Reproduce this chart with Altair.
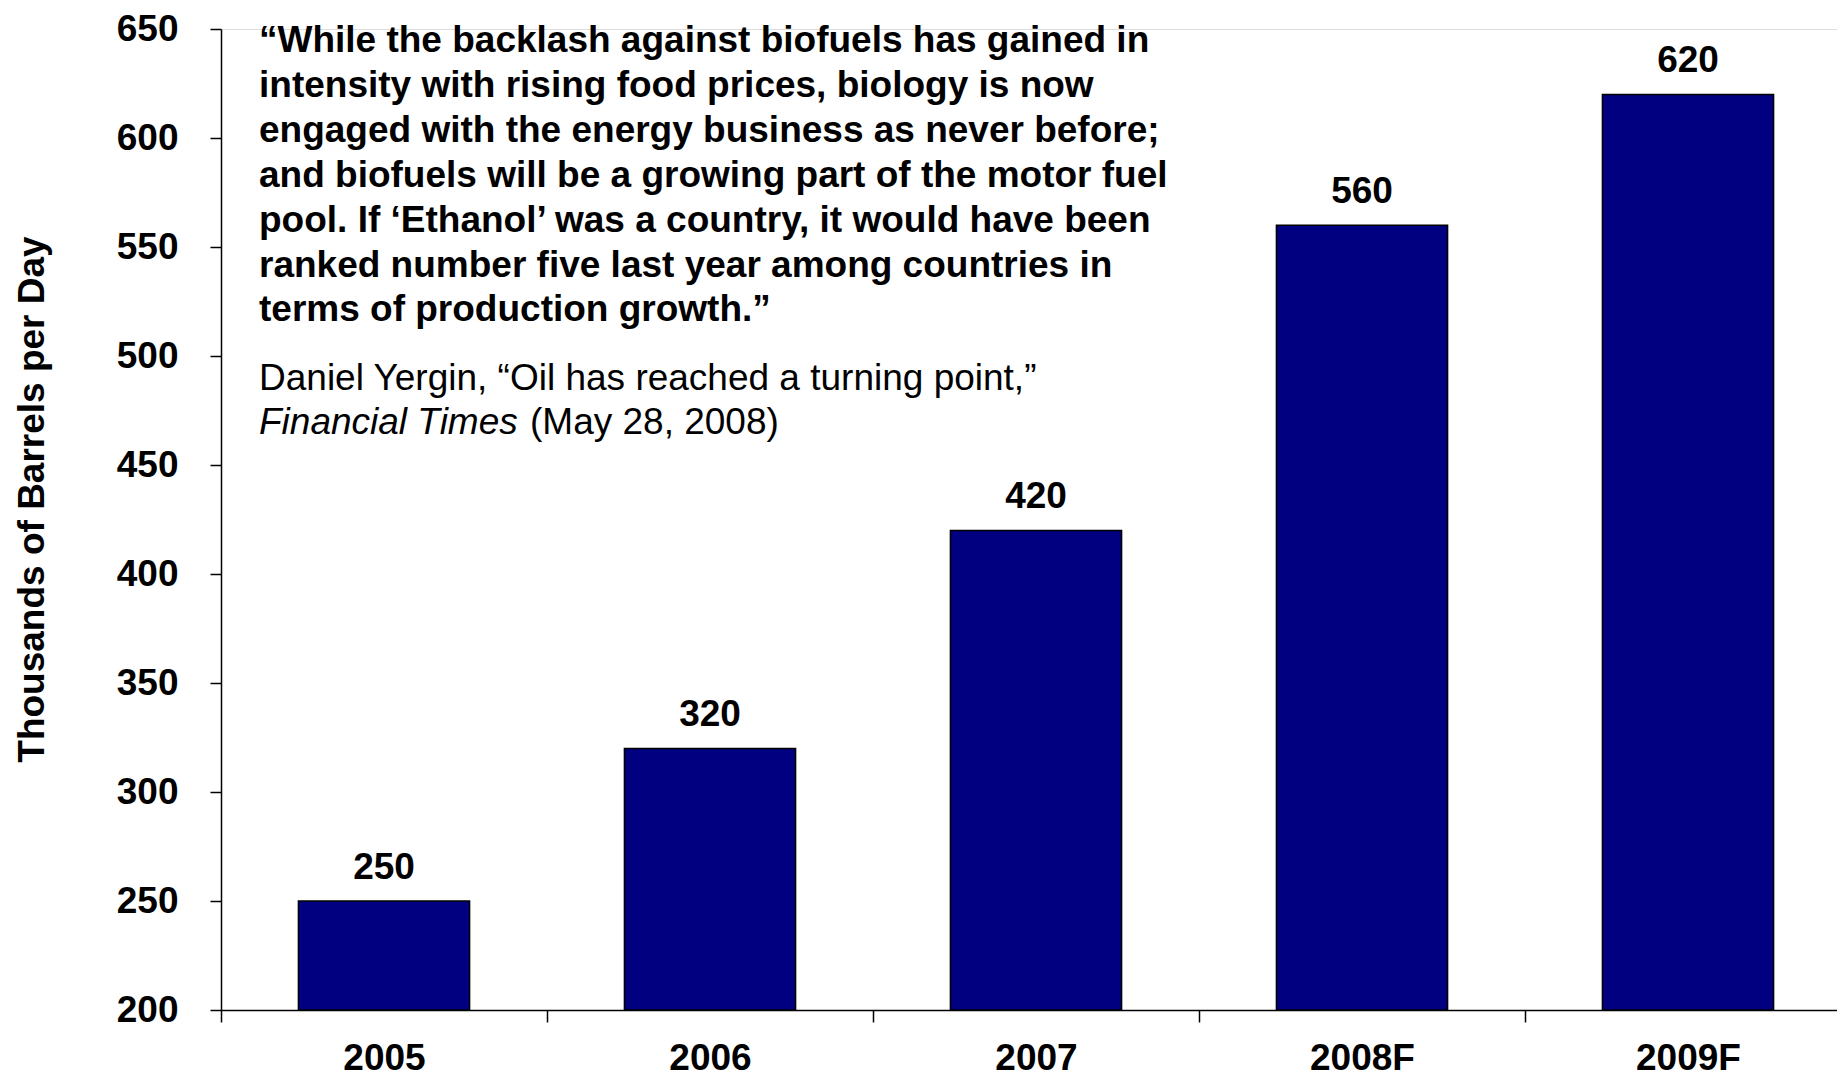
import altair as alt
import pandas as pd

years = ["2005", "2006", "2007", "2008F", "2009F"]
values = [250, 320, 420, 560, 620]
y_ticks = [200, 250, 300, 350, 400, 450, 500, 550, 600, 650]
y_title = "Thousands of Barrels per Day"

quote_lines = [
    "\u201cWhile the backlash against biofuels has gained in",
    "intensity with rising food prices, biology is now",
    "engaged with the energy business as never before;",
    "and biofuels will be a growing part of the motor fuel",
    "pool. If \u2018Ethanol\u2019 was a country, it would have been",
    "ranked number five last year among countries in",
    "terms of production growth.\u201d",
]
citation_line1 = "Daniel Yergin, \u201cOil has reached a turning point,\u201d"
citation_italic = "Financial Times"
citation_rest = "(May 28, 2008)"

FONT = "Liberation Sans"
FS = 37

df = pd.DataFrame({"year": years, "value": values})

x_enc = alt.X(
    "year:N",
    sort=years,
    scale=alt.Scale(paddingInner=0, paddingOuter=0),
    axis=alt.Axis(
        title=None, labelAngle=0, tickBand="extent", tickSize=12, labelPadding=18,
        labelFontSize=FS, labelFontWeight="bold", labelColor="black", labelFont=FONT,
        domainColor="black", tickColor="black", domainWidth=1.5, tickWidth=1.5,
    ),
)
y_enc = alt.Y(
    "value:Q",
    scale=alt.Scale(domain=[y_ticks[0], y_ticks[-1]], nice=False, zero=False),
    axis=alt.Axis(
        values=y_ticks, title=y_title, titleFontSize=FS, titleFontWeight="bold",
        titleFont=FONT, titleColor="black", titleAngle=270, titleX=-189, titleY=470,
        titleAlign="center", titleBaseline="middle",
        labelFontSize=FS, labelFontWeight="bold", labelFont=FONT, labelColor="black",
        labelFlush=False, labelOverlap=False, tickSize=11, labelPadding=32, grid=False,
        domainColor="black", tickColor="black", domainWidth=1.5, tickWidth=1.5,
    ),
)

bars = alt.Chart(df).mark_bar(
    width=alt.RelativeBandSize(0.525), color="#000080", stroke="black", strokeWidth=1.5
).encode(x=x_enc, y=y_enc, y2=alt.datum(y_ticks[0]))

labels = alt.Chart(df).mark_text(
    font=FONT, fontSize=FS, fontWeight="bold", color="black", baseline="alphabetic", dy=-22
).encode(x=alt.X("year:N", sort=years), y=alt.Y("value:Q"), text=alt.Text("value:Q"))

quote = alt.Chart(pd.DataFrame({"t": ["\n".join(quote_lines)]})).mark_text(
    font=FONT, fontSize=FS, fontWeight="bold", color="black", align="left",
    baseline="alphabetic", lineBreak="\n", lineHeight=44.9,
).encode(x=alt.value(38), y=alt.value(23), text="t:N")

cite1 = alt.Chart(pd.DataFrame({"t": [citation_line1]})).mark_text(
    font=FONT, fontSize=FS, color="black", align="left", baseline="alphabetic"
).encode(x=alt.value(38), y=alt.value(361), text="t:N")

cite2a = alt.Chart(pd.DataFrame({"t": [citation_italic]})).mark_text(
    font=FONT, fontSize=FS, fontStyle="italic", color="black", align="left", baseline="alphabetic"
).encode(x=alt.value(38), y=alt.value(405), text="t:N")

cite2b = alt.Chart(pd.DataFrame({"t": [citation_rest]})).mark_text(
    font=FONT, fontSize=FS, color="black", align="left", baseline="alphabetic"
).encode(x=alt.value(309), y=alt.value(405), text="t:N")

chart = alt.layer(bars, labels, quote, cite1, cite2a, cite2b).properties(
    width=1630, height=981,
    autosize=alt.AutoSizeParams(type="none"),
    padding={"left": 213, "top": 21, "right": -14, "bottom": 61},
).configure_view(stroke=None).configure(font=FONT)

chart.save("out.html", embed_options={"renderer": "svg", "actions": False})
